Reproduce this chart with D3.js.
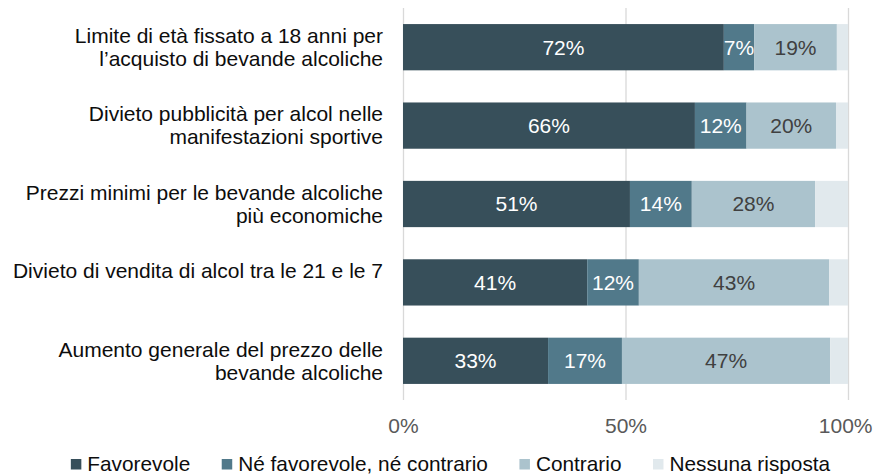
<!DOCTYPE html>
<html>
<head>
<meta charset="utf-8">
<script src="https://cdn.jsdelivr.net/npm/d3@7"></script>
<style>
  body { margin: 0; background: #fff; }
  svg { display: block; font-family: "Liberation Sans", Arial, sans-serif; }
</style>
</head>
<body>
<svg width="873" height="474"></svg>
<script>
// Category labels (line breaks as in the original chart)
const categories = [
    "Limite di età fissato a 18 anni per\nl’acquisto di bevande alcoliche",
    "Divieto pubblicità per alcol nelle\nmanifestazioni sportive",
    "Prezzi minimi per le bevande alcoliche\npiù economiche",
    "Divieto di vendita di alcol tra le 21 e le 7\n",
    "Aumento generale del prezzo delle\nbevande alcoliche"
];

// Shares in percent
const favorevole = [72.1, 65.6, 51.0, 41.4, 32.6];
const neFavNeContr = [6.8, 11.6, 13.9, 11.6, 16.6];
const contrario = [18.6, 20.1, 27.7, 42.8, 46.8];
const nessunaRisposta = [2.5, 2.7, 7.4, 4.2, 4.0];

const seriesNames = ["Favorevole", "Né favorevole, né contrario", "Contrario", "Nessuna risposta"];
const seriesColors = ["#374f5a", "#51798a", "#abc3cd", "#e1e9ed"];
const labelColors = ["#ffffff", "#ffffff", "#404040", null];
const tickValues = [0, 50, 100];

const svg = d3.select("svg");

// Build rows for the stack
const keys = ["fav", "ne", "con", "nr"];
const rows = categories.map((c, i) => ({
    cat: c, fav: favorevole[i], ne: neFavNeContr[i], con: contrario[i], nr: nessunaRisposta[i]
}));
const stacked = d3.stack().keys(keys)(rows);

// Scales
const x = d3.scaleLinear().domain([0, 100]).range([403, 848]);
const y = d3.scaleBand()
    .domain(categories)
    .range([8, 400])
    .paddingInner(0.41)
    .paddingOuter(0.205);

// Gridlines + tick labels
const axis = svg.append("g")
    .attr("transform", "translate(0,400)")
    .call(d3.axisBottom(x)
        .tickValues(tickValues)
        .tickFormat(d => d + "%")
        .tickSize(-392)
        .tickPadding(18));
axis.select(".domain").remove();
axis.selectAll("line").attr("stroke", "#d9d9d9").attr("stroke-width", 1.3);
axis.selectAll("text")
    .attr("fill", "#595959")
    .style("font-size", "21px")
    .style("font-family", "'Liberation Sans', Arial, sans-serif");

// keep the last tick label inside the picture
axis.selectAll("text").each(function(d) {
    const w = this.getComputedTextLength();
    const over = x(d) + w / 2 - 872;
    if (over > 0) d3.select(this).attr("dx", -over);
});

// Bars
const groups = svg.append("g")
    .selectAll("g")
    .data(stacked)
    .enter().append("g")
    .attr("fill", (d, i) => seriesColors[i]);

groups.selectAll("rect")
    .data(d => d)
    .enter().append("rect")
    .attr("x", d => x(d[0]))
    .attr("y", d => y(d.data.cat))
    .attr("width", d => x(d[1]) - x(d[0]))
    .attr("height", y.bandwidth());

// Value labels inside the segments
stacked.forEach((s, i) => {
    if (!labelColors[i]) return;
    svg.append("g")
        .selectAll("text")
        .data(s)
        .enter().append("text")
        .attr("x", d => (x(d[0]) + x(d[1])) / 2)
        .attr("y", d => y(d.data.cat) + y.bandwidth() / 2)
        .attr("dy", "0.35em")
        .attr("text-anchor", "middle")
        .attr("fill", labelColors[i])
        .style("font-size", "21px")
        .text(d => Math.round(d[1] - d[0]) + "%");
});

// Category labels on the left
const lineH = 23;
const catText = svg.append("g")
    .selectAll("text")
    .data(categories)
    .enter().append("text")
    .attr("text-anchor", "end")
    .attr("fill", "#0d0d0d")
    .style("font-size", "21px");

catText.each(function(c) {
    const lines = c.split("\n");
    const cy = y(c) + y.bandwidth() / 2;
    const first = cy - (lines.length - 1) * lineH / 2;
    d3.select(this).selectAll("tspan")
        .data(lines)
        .enter().append("tspan")
        .attr("x", 383)
        .attr("y", (d, i) => first + i * lineH)
        .attr("dy", "0.35em")
        .text(d => d);
});

// Legend
const legend = svg.append("g");
const items = legend.selectAll("g")
    .data(seriesNames)
    .enter().append("g");

items.append("rect")
    .attr("y", 459)
    .attr("width", 10.5)
    .attr("height", 10.5)
    .attr("fill", (d, i) => seriesColors[i]);

items.append("text")
    .attr("x", 16.5)
    .attr("y", 471)
    .attr("fill", "#0d0d0d")
    .style("font-size", "20.8px")
    .text(d => d);

const gap = 31.5;
let pos = 0;
const offsets = [];
items.each(function() {
    offsets.push(pos);
    const w = d3.select(this).select("text").node().getComputedTextLength();
    pos += 16.5 + w + gap;
});
const total = pos - gap;
const start = 450.5 - total / 2;
items.attr("transform", (d, i) => `translate(${start + offsets[i]},0)`);
</script>
</body>
</html>
